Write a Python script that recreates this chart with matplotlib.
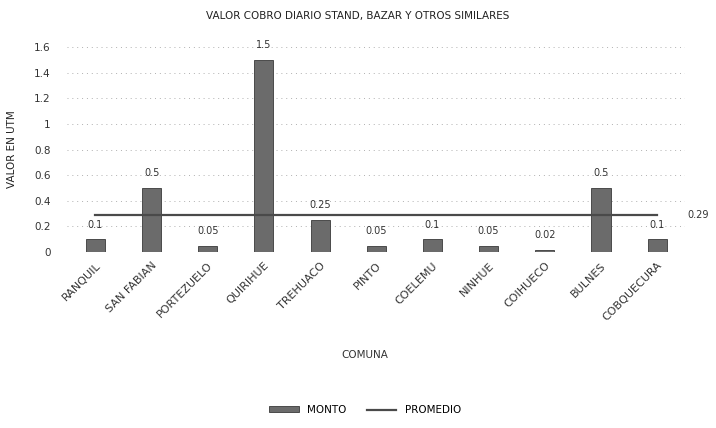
import matplotlib.pyplot as plt
import numpy as np

comunas = ["RANQUIL", "SAN FABIAN", "PORTEZUELO", "QUIRIHUE", "TREHUACO", "PINTO",
           "COELEMU", "NINHUE", "COIHUECO", "BULNES", "COBQUECURA"]
monto = [0.1, 0.5, 0.05, 1.5, 0.25, 0.05, 0.1, 0.05, 0.02, 0.5, 0.1]
promedio = 0.29
yticks = [0, 0.2, 0.4, 0.6, 0.8, 1, 1.2, 1.4, 1.6]

fig = plt.figure(figsize=(7.16, 4.28), dpi=100)
ax = fig.add_axes([0.094, 0.411, 0.863, 0.479])

x = np.arange(len(comunas))
bars = ax.bar(x, monto, width=0.34, color="#6b6b6b", edgecolor="#3a3a3a", linewidth=0.6,
              label="MONTO", zorder=2)
line, = ax.plot(x, [promedio] * len(x), color="#4a4a4a", lw=1.6, label="PROMEDIO", zorder=3)

for xi, v in zip(x, monto):
    ax.annotate(f"{v:g}", (xi, v), xytext=(0, 7), textcoords="offset points",
                ha="center", va="bottom", fontsize=7, color="#333")
ax.annotate(f"{promedio:g}", (x[-1], promedio), xytext=(22, 0), textcoords="offset points",
            ha="left", va="center", fontsize=7, color="#333")

ax.set_xlim(-0.5, len(comunas) - 0.5)
ax.set_ylim(0, 1.6)
ax.set_yticks(yticks)
ax.set_yticklabels([f"{t:g}" for t in yticks], fontsize=7.5, color="#333")
ax.set_xticks(x)
ax.set_xticklabels(comunas, rotation=45, ha="right", rotation_mode="anchor",
                   fontsize=8, color="#333")
ax.tick_params(axis="x", length=0, pad=6)
ax.tick_params(axis="y", length=0, pad=12)
ax.yaxis.grid(True, linestyle=(0, (1, 4)), color="#b0b0b0", lw=0.7)
ax.set_axisbelow(True)
for s in ax.spines.values():
    s.set_visible(False)

ax.set_ylabel("VALOR EN UTM", fontsize=7.5, color="#222", labelpad=12)
fig.text(0.51, 0.17, "COMUNA", ha="center", va="center", fontsize=7.5, color="#333")
fig.text(0.5, 0.962, "VALOR COBRO DIARIO STAND, BAZAR Y OTROS SIMILARES",
         ha="center", va="center", fontsize=7.5, color="#222")

fig.legend([bars, line], ["MONTO", "PROMEDIO"], loc="center", bbox_to_anchor=(0.51, 0.042),
           ncol=2, frameon=False, fontsize=7.5, handlelength=2.8, handleheight=0.5,
           columnspacing=2)

fig.savefig("out.png", dpi=100)
